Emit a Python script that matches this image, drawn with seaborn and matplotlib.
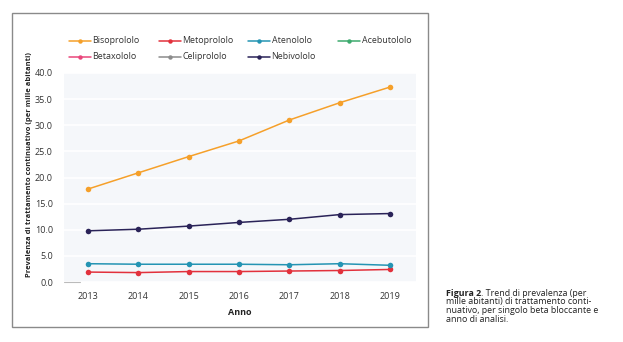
import numpy as np
import pandas as pd
import matplotlib
matplotlib.use("Agg")
import matplotlib.pyplot as plt
from matplotlib.lines import Line2D
from matplotlib.patches import Rectangle
import seaborn as sns

# Prevalenza per mille abitanti, per principio attivo
anni = [2013, 2014, 2015, 2016, 2017, 2018, 2019]
bisoprololo = [17.8, 20.9, 24.0, 27.0, 31.0, 34.3, 37.3]
metoprololo = [1.9, 1.8, 2.0, 2.0, 2.1, 2.2, 2.4]
atenololo = [3.5, 3.4, 3.4, 3.4, 3.3, 3.5, 3.2]
acebutololo = [np.nan] * 7
betaxololo = [np.nan] * 7
celiprololo = [np.nan] * 7
nebivololo = [9.8, 10.1, 10.7, 11.4, 12.0, 12.9, 13.1]

farmaci = ["Bisoprololo", "Metoprololo", "Atenololo", "Acebutololo",
           "Betaxololo", "Celiprololo", "Nebivololo"]
valori = [bisoprololo, metoprololo, atenololo, acebutololo,
          betaxololo, celiprololo, nebivololo]
colori = ["#F5A02A", "#E2313C", "#2494B3", "#3DAA6E",
          "#E9467B", "#8C8C8C", "#2A2358"]
palette = dict(zip(farmaci, colori))

df = pd.DataFrame(
    [(a, f, v) for f, serie in zip(farmaci, valori) for a, v in zip(anni, serie)],
    columns=["Anno", "Farmaco", "Prevalenza"],
).dropna()

sns.set_theme(style="white")
plt.rcParams["font.family"] = ["Open Sans", "DejaVu Sans"]

W, H = 623, 342
fig = plt.figure(figsize=(W / 100, H / 100), dpi=100)
fig.patch.set_facecolor("white")
renderer = fig.canvas.get_renderer()


def fx(px):
    return px / W


def fy(px):
    return 1 - px / H


# cornice del grafico
fig.add_artist(Rectangle((fx(12), fy(327)), (428 - 12) / W, (327 - 13) / H,
                         transform=fig.transFigure, fill=False,
                         edgecolor="#8a8a8a", linewidth=1.0))

ax = fig.add_axes([fx(64), fy(282), (416 - 64) / W, (282 - 73) / H])
ax.set_facecolor("#F5F7FA")

sns.lineplot(data=df, x="Anno", y="Prevalenza", hue="Farmaco",
             palette=palette, marker="o", markersize=4, markeredgewidth=0,
             linewidth=1.1, legend=False, ax=ax, zorder=3)

ax.set_xlim(2012.52, 2019.52)
ax.set_ylim(0, 40)
ax.set_xticks(anni)
ax.set_xticklabels([str(a) for a in anni])
yt = np.arange(0, 40.1, 5)
ax.set_yticks(yt)
ax.set_yticklabels([f"{v:.1f}" for v in yt])
ax.tick_params(axis="both", length=0, labelsize=6.5, colors="#333333")
ax.tick_params(axis="x", pad=7)
ax.tick_params(axis="y", pad=8)
ax.grid(axis="y", color="white", linewidth=1.2)
ax.grid(axis="x", visible=False)
for s in ax.spines.values():
    s.set_visible(False)
ax.axhline(0, xmin=0, xmax=0.045, color="#bbbbbb", linewidth=0.8, clip_on=False)

ax.set_xlabel("Anno", fontsize=6.5, fontweight="bold", color="#222222", labelpad=5)
ax.set_ylabel("")
fig.text(fx(30), fy(165),
         "Prevalenza di trattamento continuativo (per mille abitanti)",
         rotation=90, fontsize=5.4, fontweight="bold", color="#222222",
         ha="center", va="center")

# legenda a colonne fisse: campione di linea con punto, poi etichetta
col_x = [69, 159, 248, 338]
row_y = [40.5, 56.5]
for k, (nome, col) in enumerate(zip(farmaci, colori)):
    r, c = divmod(k, 4)
    x0, y = col_x[c], row_y[r]
    fig.add_artist(Line2D([fx(x0), fx(x0 + 22)], [fy(y), fy(y)],
                          transform=fig.transFigure, color=col, linewidth=1.1))
    fig.add_artist(Line2D([fx(x0 + 11)], [fy(y)], transform=fig.transFigure,
                          color=col, marker="o", markersize=3.2,
                          markeredgewidth=0, linestyle="none"))
    fig.text(fx(x0 + 23.5), fy(y), nome, fontsize=6.4, color="#333333",
             ha="left", va="center")

# didascalia
cap_x = fx(446)
righe = ["mille abitanti) di trattamento conti-",
         "nuativo, per singolo beta bloccante e",
         "anno di analisi."]
fs = 6.4
y0 = fy(293)
dy = 8.8 / H
t1 = fig.text(cap_x, y0, "Figura 2", fontsize=fs, fontweight="bold",
              color="#222222", va="center")
bb = t1.get_window_extent(renderer=renderer)
fig.text(bb.x1 / W, y0, ". Trend di prevalenza (per", fontsize=fs,
         color="#222222", va="center")
for i, r in enumerate(righe, start=1):
    fig.text(cap_x, y0 - i * dy, r, fontsize=fs, color="#222222", va="center")

fig.savefig("out.png", dpi=100, facecolor="white")
